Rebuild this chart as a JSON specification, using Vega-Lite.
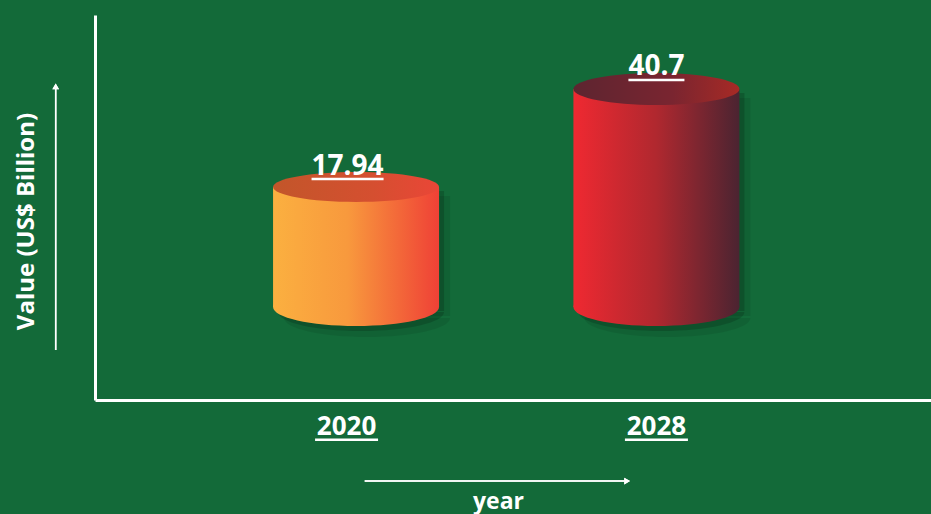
{
  "$schema": "https://vega.github.io/schema/vega-lite/v6.json",
  "autosize": "none",
  "width": 836,
  "height": 385,
  "padding": {"left": 95, "top": 15, "right": 0, "bottom": 114},
  "background": "#136a39",
  "view": {"stroke": null},
  "config": {"font": "Open Sans"},
  "data": {"values": [
    {"year": 2020, "value": 17.94, "label": "17.94"},
    {"year": 2028, "value": 40.7, "label": "40.7"}
  ]},
  "encoding": {
    "x": {"field": "year", "type": "quantitative",
      "scale": {"domain": [2013.18, 2035.18], "nice": false, "zero": false},
      "axis": {"domainColor": "white", "domainWidth": 3, "ticks": false, "labels": false, "grid": false,
        "title": "year", "titleColor": "white", "titleFontSize": 23, "titleFontWeight": "bold", "titleFont": "Open Sans",
        "titleX": 403, "titleY": 108, "titleBaseline": "alphabetic", "titleAlign": "center"}},
    "y": {"field": "value", "type": "quantitative",
      "scale": {"domain": [-31.52, 57.88], "nice": false, "zero": false},
      "axis": {"domainColor": "white", "domainWidth": 3, "ticks": false, "labels": false, "grid": false,
        "title": "Value (US$ Billion)", "titleColor": "white", "titleFontSize": 24, "titleFontWeight": "bold", "titleFont": "Open Sans",
        "titleX": -69, "titleY": 206, "titleAngle": 270, "titleBaseline": "middle", "titleAlign": "center"}}
  },
  "layer": [
    {"mark": {"type": "bar", "width": 166, "color": "black", "opacity": 0.08, "xOffset": 11, "yOffset": 9, "y2Offset": 9},
     "encoding": {"y2": {"datum": -9.93}}},
    {"mark": {"type": "point", "filled": true, "strokeWidth": 0, "color": "black", "opacity": 0.08, "size": 27556, "xOffset": 11, "yOffset": 11,
        "shape": "M-1,0C-1,0.1265,-0.5523,0.229,0,0.229C0.5523,0.229,1,0.1265,1,0Z"},
     "encoding": {"y": {"datum": -9.93}}},
    {"mark": {"type": "bar", "width": 166, "color": "black", "opacity": 0.16, "xOffset": 5, "yOffset": 4, "y2Offset": 4},
     "encoding": {"y2": {"datum": -9.93}}},
    {"mark": {"type": "point", "filled": true, "strokeWidth": 0, "color": "black", "opacity": 0.16, "size": 27556, "xOffset": 5, "yOffset": 5,
        "shape": "M-1,0C-1,0.1265,-0.5523,0.229,0,0.229C0.5523,0.229,1,0.1265,1,0Z"},
     "encoding": {"y": {"datum": -9.93}}},

    {"transform": [{"filter": "datum.year == 2020"}],
     "layer": [
       {"mark": {"type": "point", "filled": true, "strokeWidth": 0, "opacity": 1, "size": 27556,
          "shape": "M-1,0C-1,0.1265,-0.5523,0.229,0,0.229C0.5523,0.229,1,0.1265,1,0C1,-0.1265,0.5523,-0.229,0,-0.229C-0.5523,-0.229,-1,-0.1265,-1,0Z",
          "fill": {"gradient": "linear", "x1": 0, "y1": 0, "x2": 1, "y2": 0,
            "stops": [{"offset": 0, "color": "#fbb040"}, {"offset": 0.45, "color": "#f8993d"}, {"offset": 1, "color": "#ef4136"}]}},
        "encoding": {"y": {"datum": -9.93}}},
       {"mark": {"type": "bar", "width": 166,
          "fill": {"gradient": "linear", "x1": 0, "y1": 0, "x2": 1, "y2": 0,
            "stops": [{"offset": 0, "color": "#fbb040"}, {"offset": 0.45, "color": "#f8993d"}, {"offset": 1, "color": "#ef4136"}]}},
        "encoding": {"y2": {"datum": -9.93}}},
       {"mark": {"type": "point", "filled": true, "strokeWidth": 0, "opacity": 1, "size": 27556,
          "shape": "M-1,0C-1,-0.0994,-0.5523,-0.18,0,-0.18C0.5523,-0.18,1,-0.0994,1,0C1,0.0994,0.5523,0.18,0,0.18C-0.5523,0.18,-1,0.0994,-1,0Z",
          "fill": {"gradient": "linear", "x1": 0, "y1": 0, "x2": 1, "y2": 0,
            "stops": [{"offset": 0, "color": "#c2562a"}, {"offset": 0.6, "color": "#d54f30"}, {"offset": 1, "color": "#ea4637"}]}}},
       {"mark": {"type": "text", "color": "white", "font": "Open Sans", "fontWeight": "bold", "fontSize": 28, "baseline": "alphabetic", "dy": -12, "dx": -8.5},
        "encoding": {"text": {"field": "label"}}},
       {"mark": {"type": "tick", "orient": "horizontal", "size": 72, "thickness": 2.5, "color": "white", "yOffset": -8, "xOffset": -8.5, "opacity": 1}},
       {"mark": {"type": "text", "color": "white", "font": "Open Sans", "fontWeight": "bold", "fontSize": 26, "baseline": "alphabetic", "dx": -9.5},
        "encoding": {"y": {"datum": -39.65}, "text": {"field": "year"}}},
       {"mark": {"type": "tick", "orient": "horizontal", "size": 63, "thickness": 2.5, "color": "white", "xOffset": -9.5, "opacity": 1},
        "encoding": {"y": {"datum": -40.75}}}
     ]},

    {"transform": [{"filter": "datum.year == 2028"}],
     "layer": [
       {"mark": {"type": "point", "filled": true, "strokeWidth": 0, "opacity": 1, "size": 27556,
          "shape": "M-1,0C-1,0.1265,-0.5523,0.229,0,0.229C0.5523,0.229,1,0.1265,1,0C1,-0.1265,0.5523,-0.229,0,-0.229C-0.5523,-0.229,-1,-0.1265,-1,0Z",
          "fill": {"gradient": "linear", "x1": 0, "y1": 0, "x2": 1, "y2": 0,
            "stops": [{"offset": 0, "color": "#ef2931"}, {"offset": 0.5, "color": "#b0282f"}, {"offset": 1, "color": "#4b2431"}]}},
        "encoding": {"y": {"datum": -9.93}}},
       {"mark": {"type": "bar", "width": 166,
          "fill": {"gradient": "linear", "x1": 0, "y1": 0, "x2": 1, "y2": 0,
            "stops": [{"offset": 0, "color": "#ef2931"}, {"offset": 0.5, "color": "#b0282f"}, {"offset": 1, "color": "#4b2431"}]}},
        "encoding": {"y2": {"datum": -9.93}}},
       {"mark": {"type": "point", "filled": true, "strokeWidth": 0, "opacity": 1, "size": 27556,
          "shape": "M-1,0C-1,-0.1064,-0.5523,-0.1928,0,-0.1928C0.5523,-0.1928,1,-0.1064,1,0C1,0.1064,0.5523,0.1928,0,0.1928C-0.5523,0.1928,-1,0.1064,-1,0Z",
          "fill": {"gradient": "linear", "x1": 0, "y1": 0, "x2": 1, "y2": 0,
            "stops": [{"offset": 0, "color": "#5d2530"}, {"offset": 0.6, "color": "#7a2530"}, {"offset": 1, "color": "#a72a25"}]}}},
       {"mark": {"type": "text", "color": "white", "font": "Open Sans", "fontWeight": "bold", "fontSize": 28, "baseline": "alphabetic", "dy": -14},
        "encoding": {"text": {"field": "label"}}},
       {"mark": {"type": "tick", "orient": "horizontal", "size": 56, "thickness": 2.5, "color": "white", "yOffset": -9, "opacity": 1}},
       {"mark": {"type": "text", "color": "white", "font": "Open Sans", "fontWeight": "bold", "fontSize": 26, "baseline": "alphabetic"},
        "encoding": {"y": {"datum": -39.65}, "text": {"field": "year"}}},
       {"mark": {"type": "tick", "orient": "horizontal", "size": 63, "thickness": 2.5, "color": "white", "opacity": 1},
        "encoding": {"y": {"datum": -40.75}}}
     ]},

    {"mark": {"type": "rule", "color": "white", "strokeWidth": 1.5},
     "encoding": {"x": {"datum": 2012.0}, "y": {"datum": -19.9}, "y2": {"datum": 40.9}}},
    {"mark": {"type": "point", "shape": "triangle-up", "filled": true, "color": "white", "size": 45, "opacity": 1},
     "encoding": {"x": {"datum": 2012.0}, "y": {"datum": 41.3}}},
    {"mark": {"type": "rule", "color": "white", "strokeWidth": 1.5},
     "encoding": {"x": {"datum": 2020.23}, "x2": {"datum": 2027.15}, "y": {"datum": -50.34}}},
    {"mark": {"type": "point", "shape": "triangle-right", "filled": true, "color": "white", "size": 45, "opacity": 1},
     "encoding": {"x": {"datum": 2027.22}, "y": {"datum": -50.34}}}
  ]
}
